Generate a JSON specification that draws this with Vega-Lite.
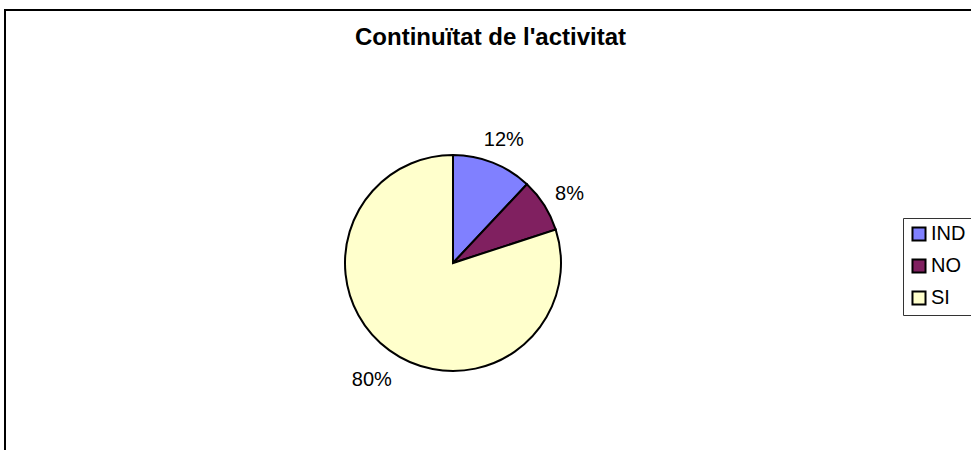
{
  "$schema": "https://vega.github.io/schema/vega-lite/v6.json",
  "autosize": "none",
  "width": 972,
  "height": 442,
  "padding": {"left": 5, "top": 10, "right": 0, "bottom": 0},
  "background": "white",
  "title": {
    "text": "Continuïtat de l'activitat",
    "anchor": "start",
    "orient": "top",
    "offset": 0,
    "dy": 41,
    "dx": 351,
    "font": "Liberation Sans",
    "fontSize": 24,
    "fontWeight": "bold",
    "color": "black"
  },
  "data": {
    "values": [
      {"cat": "IND", "pct": 0.12},
      {"cat": "NO", "pct": 0.08},
      {"cat": "SI", "pct": 0.80}
    ]
  },
  "layer": [
    {
      "mark": {"type": "rect", "fill": "transparent", "stroke": "black", "strokeWidth": 2},
      "encoding": {}
    },
    {
      "mark": {"type": "arc", "radius": 108, "x": 448, "y": 253, "stroke": "black", "strokeWidth": 2},
      "encoding": {
        "theta": {"field": "pct", "type": "quantitative", "stack": true},
        "order": {"field": "cat", "type": "nominal", "sort": "ascending"},
        "color": {
          "field": "cat",
          "type": "nominal",
          "scale": {"domain": ["IND", "NO", "SI"], "range": ["#8080FF", "#802060", "#FFFFCC"]},
          "legend": {
            "title": null,
            "orient": "none",
            "legendX": 898,
            "legendY": 208,
            "symbolType": "square",
            "symbolSize": 170,
            "symbolStrokeColor": "black",
            "symbolStrokeWidth": 2,
            "symbolOpacity": 1,
            "labelFont": "Liberation Sans",
            "labelFontSize": 20,
            "labelColor": "black",
            "labelOffset": 2,
            "rowPadding": 10,
            "padding": 6,
            "strokeColor": "#333333",
            "fillColor": "white"
          }
        }
      }
    },
    {
      "mark": {"type": "text", "radius": 138, "x": 448, "y": 253, "dy": 5, "font": "Liberation Sans", "fontSize": 20, "color": "black"},
      "encoding": {
        "theta": {"field": "pct", "type": "quantitative", "stack": true},
        "order": {"field": "cat", "type": "nominal", "sort": "ascending"},
        "text": {"field": "pct", "type": "quantitative", "format": ".0%"}
      }
    }
  ],
  "config": {"view": {"stroke": null}}
}
